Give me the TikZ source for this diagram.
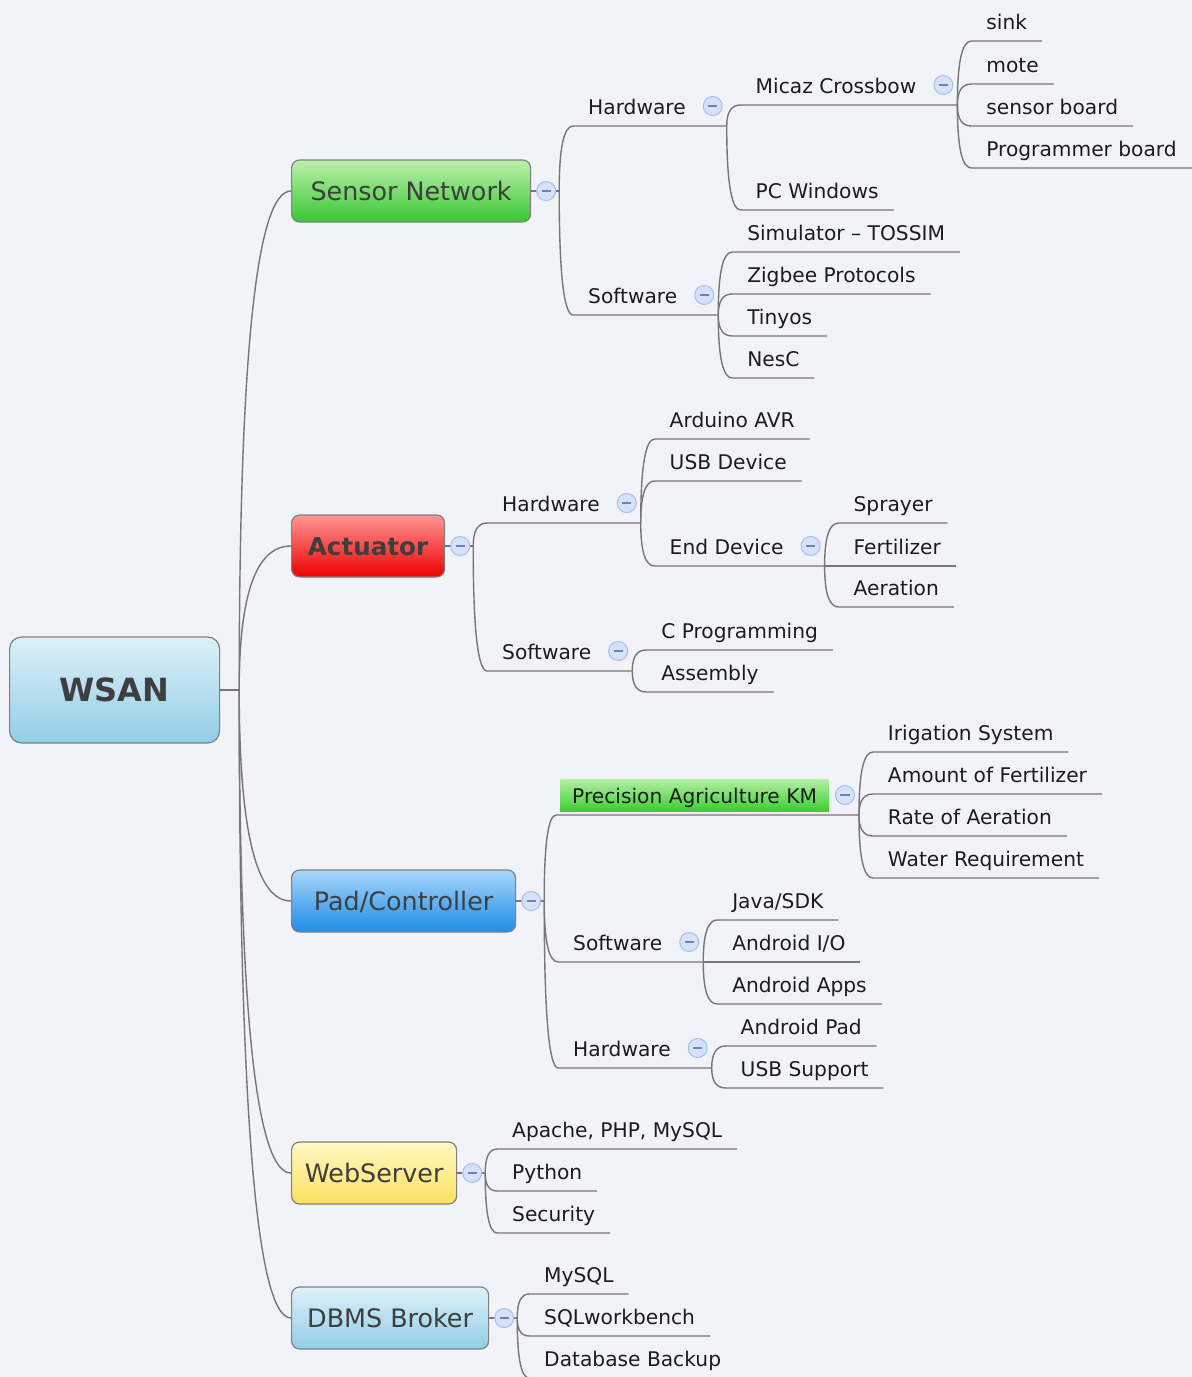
\documentclass[tikz,border=0pt]{standalone}
\usepackage{fontspec}
\setmainfont{DejaVu Sans}
\usetikzlibrary{calc}

\definecolor{bgcol}{RGB}{242,243,249}
\definecolor{linecol}{RGB}{118,118,118}
\definecolor{boxline}{RGB}{128,128,128}
\definecolor{boxtext}{RGB}{62,62,62}
\definecolor{leaftext}{RGB}{28,28,28}
\definecolor{togfill}{RGB}{214,226,250}
\definecolor{togline}{RGB}{165,190,238}
\definecolor{togbar}{RGB}{110,130,180}
\definecolor{roottop}{RGB}{222,240,248}
\definecolor{rootbot}{RGB}{145,205,230}
\definecolor{sntop}{RGB}{188,240,172}
\definecolor{snbot}{RGB}{58,198,50}
\definecolor{acttop}{RGB}{255,150,150}
\definecolor{actbot}{RGB}{238,0,0}
\definecolor{padtop}{RGB}{168,214,250}
\definecolor{padbot}{RGB}{30,140,232}
\definecolor{webtop}{RGB}{255,249,196}
\definecolor{webbot}{RGB}{255,224,96}
\definecolor{kmtop}{RGB}{180,240,165}
\definecolor{kmbot}{RGB}{60,205,50}

\tikzstyle{rootbox} = [anchor=west, rounded corners=6pt, draw=boxline, line width=0.6pt, minimum width=105pt, minimum height=53pt, top color=roottop, bottom color=rootbot, font=\fontsize{16}{18}\selectfont\bfseries, text=boxtext, text height=11.6pt, text depth=0pt]
\tikzstyle{mainbox} = [anchor=west, rounded corners=4pt, draw=boxline, line width=0.6pt, minimum height=31pt, font=\fontsize{12.7}{15}\selectfont, text=boxtext, text height=9.2pt, text depth=0pt]
\tikzstyle{topic} = [anchor=south west, inner xsep=7.5pt, inner ysep=0pt, outer sep=0pt, text height=14pt, text depth=6pt, font=\fontsize{10.1}{12}\selectfont, text=leaftext]
\tikzstyle{kmbox} = [topic, inner xsep=6pt, outer sep=2pt, text height=12pt, text depth=4pt, top color=kmtop, bottom color=kmbot]
\tikzstyle{toggle} = [circle, minimum size=9.5pt, inner sep=0pt, fill=togfill, draw=togline, line width=0.5pt, path picture={\draw[togbar, line width=0.6pt] ([xshift=-2.3pt]path picture bounding box.center) -- ([xshift=2.3pt]path picture bounding box.center);}]
\tikzstyle{link} = [draw=linecol, line width=0.7pt]
\tikzstyle{branch} = [to path={.. controls ($(\tikztostart)!0.67!(\tikztostart |- \tikztotarget)$) and ($(\tikztotarget)!0.67!(\tikztostart |- \tikztotarget)$) .. (\tikztotarget) \tikztonodes}]

\begin{document}
\begin{tikzpicture}[x=0.5pt, y=-0.5pt]
\useasboundingbox (0,0) rectangle (1192,1377);
\fill [bgcol] (0,0) rectangle (1192,1377);

% central topic and main branches
\node (root) [rootbox] at (9,690) {WSAN};
\node (sn) [mainbox, minimum width=119.5pt, top color=sntop, bottom color=snbot] at (291,191) {Sensor Network};
\node (act) [mainbox, minimum width=76.5pt, top color=acttop, bottom color=actbot, font=\fontsize{12.3}{15}\selectfont\bfseries] at (291,546) {Actuator};
\node (pad) [mainbox, minimum width=112pt, top color=padtop, bottom color=padbot] at (291,901) {Pad/Controller};
\node (web) [mainbox, minimum width=82.5pt, top color=webtop, bottom color=webbot] at (291,1173) {WebServer};
\node (dbms) [mainbox, minimum width=98.5pt, top color=roottop, bottom color=rootbot] at (291,1318) {DBMS Broker};

\coordinate (rootj) at ($(root.east)+(9.5pt,0)$);
\coordinate (snj) at ($(sn.east)+(14pt,0)$);
\coordinate (actj) at ($(act.east)+(14pt,0)$);
\coordinate (padj) at ($(pad.east)+(14pt,0)$);
\coordinate (webj) at ($(web.east)+(14pt,0)$);
\coordinate (dbmsj) at ($(dbms.east)+(14pt,0)$);

% sensor network
\node (snhw) [topic] at ($(snj |- 0,126)+(7pt,0)$) {Hardware};
\node (snsw) [topic] at ($(snj |- 0,315)+(7pt,0)$) {Software};
\coordinate (snhwj) at ($(snhw.south east)+(13pt,0)$);
\coordinate (snswj) at ($(snsw.south east)+(13pt,0)$);
\node (micaz) [topic] at ($(snhwj |- 0,105)+(7pt,0)$) {Micaz Crossbow};
\node (pcwin) [topic] at ($(snhwj |- 0,210)+(7pt,0)$) {PC Windows};
\coordinate (micazj) at ($(micaz.south east)+(13pt,0)$);
\node (sink) [topic] at ($(micazj |- 0,41)+(7pt,0)$) {sink};
\node (mote) [topic] at ($(micazj |- 0,84)+(7pt,0)$) {mote};
\node (sboard) [topic] at ($(micazj |- 0,126)+(7pt,0)$) {sensor board};
\node (pboard) [topic] at ($(micazj |- 0,168)+(7pt,0)$) {Programmer board};
\node (sim) [topic] at ($(snswj |- 0,252)+(7pt,0)$) {Simulator – TOSSIM};
\node (zigbee) [topic] at ($(snswj |- 0,294)+(7pt,0)$) {Zigbee Protocols};
\node (tinyos) [topic] at ($(snswj |- 0,336)+(7pt,0)$) {Tinyos};
\node (nesc) [topic] at ($(snswj |- 0,378)+(7pt,0)$) {NesC};

% actuator
\node (acthw) [topic] at ($(actj |- 0,523)+(7pt,0)$) {Hardware};
\node (actsw) [topic] at ($(actj |- 0,671)+(7pt,0)$) {Software};
\coordinate (acthwj) at ($(acthw.south east)+(13pt,0)$);
\coordinate (actswj) at ($(actsw.south east)+(13pt,0)$);
\node (arduino) [topic] at ($(acthwj |- 0,439)+(7pt,0)$) {Arduino AVR};
\node (usbdev) [topic] at ($(acthwj |- 0,481)+(7pt,0)$) {USB Device};
\node (enddev) [topic] at ($(acthwj |- 0,566)+(7pt,0)$) {End Device};
\coordinate (enddevj) at ($(enddev.south east)+(13pt,0)$);
\node (sprayer) [topic] at ($(enddevj |- 0,523)+(7pt,0)$) {Sprayer};
\node (fert) [topic] at ($(enddevj |- 0,566)+(7pt,0)$) {Fertilizer};
\node (aer) [topic] at ($(enddevj |- 0,607)+(7pt,0)$) {Aeration};
\node (cprog) [topic] at ($(actswj |- 0,650)+(7pt,0)$) {C Programming};
\node (asm) [topic] at ($(actswj |- 0,692)+(7pt,0)$) {Assembly};

% pad / controller
\node (pakm) [kmbox] at ($(padj |- 0,815)+(6pt,0)$) {Precision Agriculture KM};
\node (padsw) [topic] at ($(padj |- 0,962)+(7pt,0)$) {Software};
\node (padhw) [topic] at ($(padj |- 0,1068)+(7pt,0)$) {Hardware};
\coordinate (pakmj) at ($(pakm.south east)+(13pt,0)$);
\coordinate (padswj) at ($(padsw.south east)+(13pt,0)$);
\coordinate (padhwj) at ($(padhw.south east)+(13pt,0)$);
\node (irig) [topic] at ($(pakmj |- 0,752)+(7pt,0)$) {Irigation System};
\node (amount) [topic] at ($(pakmj |- 0,794)+(7pt,0)$) {Amount of Fertilizer};
\node (rate) [topic] at ($(pakmj |- 0,836)+(7pt,0)$) {Rate of Aeration};
\node (water) [topic] at ($(pakmj |- 0,878)+(7pt,0)$) {Water Requirement};
\node (java) [topic] at ($(padswj |- 0,920)+(7pt,0)$) {Java/SDK};
\node (aio) [topic] at ($(padswj |- 0,962)+(7pt,0)$) {Android I/O};
\node (aapps) [topic] at ($(padswj |- 0,1004)+(7pt,0)$) {Android Apps};
\node (apad) [topic] at ($(padhwj |- 0,1046)+(7pt,0)$) {Android Pad};
\node (usbsup) [topic] at ($(padhwj |- 0,1088)+(7pt,0)$) {USB Support};

% web server and dbms
\node (apache) [topic] at ($(webj |- 0,1149)+(6pt,0)$) {Apache, PHP, MySQL};
\node (python) [topic] at ($(webj |- 0,1191)+(6pt,0)$) {Python};
\node (secur) [topic] at ($(webj |- 0,1233)+(6pt,0)$) {Security};
\node (mysql) [topic] at ($(dbmsj |- 0,1294)+(6pt,0)$) {MySQL};
\node (sqlwb) [topic] at ($(dbmsj |- 0,1336)+(6pt,0)$) {SQLworkbench};
\node (dbbak) [topic] at ($(dbmsj |- 0,1378)+(6pt,0)$) {Database Backup};

% connectors
\draw [link] (root.east) -- (rootj);
\draw [link] (rootj) to[branch] (sn.west);
\draw [link] (rootj) to[branch] (act.west);
\draw [link] (rootj) to[branch] (pad.west);
\draw [link] (rootj) to[branch] (web.west);
\draw [link] (rootj) to[branch] (dbms.west);

\draw [link] (sn.east) -- (snj);
\draw [link] (snj) to[branch] (snhw.south west) -- (snhwj);
\draw [link] (snj) to[branch] (snsw.south west) -- (snswj);
\draw [link] (snhwj) to[branch] (micaz.south west) -- (micazj);
\draw [link] (snhwj) to[branch] (pcwin.south west) -- (pcwin.south east);
\draw [link] (micazj) to[branch] (sink.south west) -- (sink.south east);
\draw [link] (micazj) to[branch] (mote.south west) -- (mote.south east);
\draw [link] (micazj) to[branch] (sboard.south west) -- (sboard.south east);
\draw [link] (micazj) to[branch] (pboard.south west) -- (pboard.south east);
\draw [link] (snswj) to[branch] (sim.south west) -- (sim.south east);
\draw [link] (snswj) to[branch] (zigbee.south west) -- (zigbee.south east);
\draw [link] (snswj) to[branch] (tinyos.south west) -- (tinyos.south east);
\draw [link] (snswj) to[branch] (nesc.south west) -- (nesc.south east);

\draw [link] (act.east) -- (actj);
\draw [link] (actj) to[branch] (acthw.south west) -- (acthwj);
\draw [link] (actj) to[branch] (actsw.south west) -- (actswj);
\draw [link] (acthwj) to[branch] (arduino.south west) -- (arduino.south east);
\draw [link] (acthwj) to[branch] (usbdev.south west) -- (usbdev.south east);
\draw [link] (acthwj) to[branch] (enddev.south west) -- (enddevj);
\draw [link] (enddevj) to[branch] (sprayer.south west) -- (sprayer.south east);
\draw [link] (enddevj) to[branch] (fert.south west) -- (fert.south east);
\draw [link] (enddevj) to[branch] (aer.south west) -- (aer.south east);
\draw [link] (actswj) to[branch] (cprog.south west) -- (cprog.south east);
\draw [link] (actswj) to[branch] (asm.south west) -- (asm.south east);

\draw [link] (pad.east) -- (padj);
\draw [link] (padj) to[branch] (pakm.south west) -- (pakmj);
\draw [link] (padj) to[branch] (padsw.south west) -- (padswj);
\draw [link] (padj) to[branch] (padhw.south west) -- (padhwj);
\draw [link] (pakmj) to[branch] (irig.south west) -- (irig.south east);
\draw [link] (pakmj) to[branch] (amount.south west) -- (amount.south east);
\draw [link] (pakmj) to[branch] (rate.south west) -- (rate.south east);
\draw [link] (pakmj) to[branch] (water.south west) -- (water.south east);
\draw [link] (padswj) to[branch] (java.south west) -- (java.south east);
\draw [link] (padswj) to[branch] (aio.south west) -- (aio.south east);
\draw [link] (padswj) to[branch] (aapps.south west) -- (aapps.south east);
\draw [link] (padhwj) to[branch] (apad.south west) -- (apad.south east);
\draw [link] (padhwj) to[branch] (usbsup.south west) -- (usbsup.south east);

\draw [link] (web.east) -- (webj);
\draw [link] (webj) to[branch] (apache.south west) -- (apache.south east);
\draw [link] (webj) to[branch] (python.south west) -- (python.south east);
\draw [link] (webj) to[branch] (secur.south west) -- (secur.south east);

\draw [link] (dbms.east) -- (dbmsj);
\draw [link] (dbmsj) to[branch] (mysql.south west) -- (mysql.south east);
\draw [link] (dbmsj) to[branch] (sqlwb.south west) -- (sqlwb.south east);
\draw [link] (dbmsj) to[branch] (dbbak.south west) -- (dbbak.south east);

% collapse buttons
\node (sntog) [toggle] at ($(sn.east)+(7.5pt,0)$) {};
\node (acttog) [toggle] at ($(act.east)+(7.5pt,0)$) {};
\node (padtog) [toggle] at ($(pad.east)+(7.5pt,0)$) {};
\node (webtog) [toggle] at ($(web.east)+(7.5pt,0)$) {};
\node (dbmstog) [toggle] at ($(dbms.east)+(7.5pt,0)$) {};
\node (snhwtog) [toggle] at ($(snhw.east)+(6pt,0)$) {};
\node (snswtog) [toggle] at ($(snsw.east)+(6pt,0)$) {};
\node (micaztog) [toggle] at ($(micaz.east)+(6pt,0)$) {};
\node (acthwtog) [toggle] at ($(acthw.east)+(6pt,0)$) {};
\node (actswtog) [toggle] at ($(actsw.east)+(6pt,0)$) {};
\node (enddevtog) [toggle] at ($(enddev.east)+(6pt,0)$) {};
\node (pakmtog) [toggle] at ($(pakm.east)+(6pt,0)$) {};
\node (padswtog) [toggle] at ($(padsw.east)+(6pt,0)$) {};
\node (padhwtog) [toggle] at ($(padhw.east)+(6pt,0)$) {};
\end{tikzpicture}
\end{document}
